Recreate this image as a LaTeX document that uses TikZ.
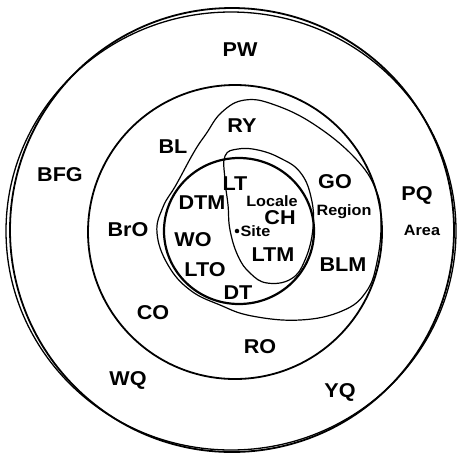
\documentclass[tikz,border=0pt]{standalone}
\usepackage{fontspec}
\setmainfont[FakeStretch=1.08]{Liberation Sans}
\usetikzlibrary{calc}
\tikzset{every picture/.style={/utils/exec={\bfseries}}}
\tikzset{point/.style={fill,circle,inner sep=1.6pt}}
\tikzset{ring/.style={line width=1.8pt}}
\tikzset{blob/.style={line width=1.2pt,smooth cycle,tension=0.7}}
\tikzset{biglab/.style={inner sep=0pt,font=\fontsize{20}{20}\selectfont}}
\tikzset{smalllab/.style={inner sep=0pt,font=\fontsize{15}{15}\selectfont}}

\begin{document}
\begin{tikzpicture}[x=1pt,y=-1pt]
    \useasboundingbox (0,0) rectangle (457,456);
    \coordinate (O) at (232,230);
    \coordinate (M) at (235,232);
    \coordinate (I) at (239,231);
    % area: two rough rings
    \draw [ring] (O) circle (222);
    \draw [line width=1.3pt] ($(O)+(-1,1)$) ellipse (225 and 219);
    % region ring and site ring
    \draw [ring] (M) circle (147);
    \draw [line width=2.2pt] (I) circle [x radius=75, y radius=73];
    % region blob
    \draw [blob] plot coordinates {(157,233) (163,207) (176,185) (194,152) (206,134) (222,112) (245,100) (275,105) (315,125) (355,158) (376,190) (381,222) (377,262) (366,292) (342,311) (300,320) (252,316) (220,305) (190,290) (168,265)};
    % locale blob
    \draw [blob] plot coordinates {(225,156) (238,149) (258,150) (280,158) (300,172) (311,197) (313,228) (305,260) (291,279) (267,283) (250,273) (238,256) (230,230) (228,205) (225,180)};
    % labels
    \node [biglab] (pw) at (240,50) {PW};
    \node [biglab] (bfg) at (60,175) {BFG};
    \node [biglab] (bl) at (173,147) {BL};
    \node [biglab] (ry) at (242,126) {RY};
    \node [biglab] (go) at (335,182) {GO};
    \node [biglab] (pq) at (417,195) {PQ};
    \node [smalllab] (region) at (344,212) {Region};
    \node [smalllab] (area) at (422,230) {Area};
    \node [biglab] (bro) at (128,230) {BrO};
    \node [biglab] (dtm) at (202,203) {DTM};
    \node [biglab] (lt) at (235,184) {LT};
    \node [smalllab] (locale) at (272,201) {Locale};
    \node [biglab] (ch) at (280,218) {CH};
    \node [point] (site) at (237,231) {};
    \node [smalllab,right=1pt] (sitelab) at (site.east) {Site};
    \node [biglab] (wo) at (193,240) {WO};
    \node [biglab] (ltm) at (273,255) {LTM};
    \node [biglab] (blm) at (343,265) {BLM};
    \node [biglab] (lto) at (205,270) {LTO};
    \node [biglab] (dt) at (238,293) {DT};
    \node [biglab] (co) at (153,313) {CO};
    \node [biglab] (ro) at (260,347) {RO};
    \node [biglab] (wq) at (128,380) {WQ};
    \node [biglab] (yq) at (340,392) {YQ};
\end{tikzpicture}
\end{document}
